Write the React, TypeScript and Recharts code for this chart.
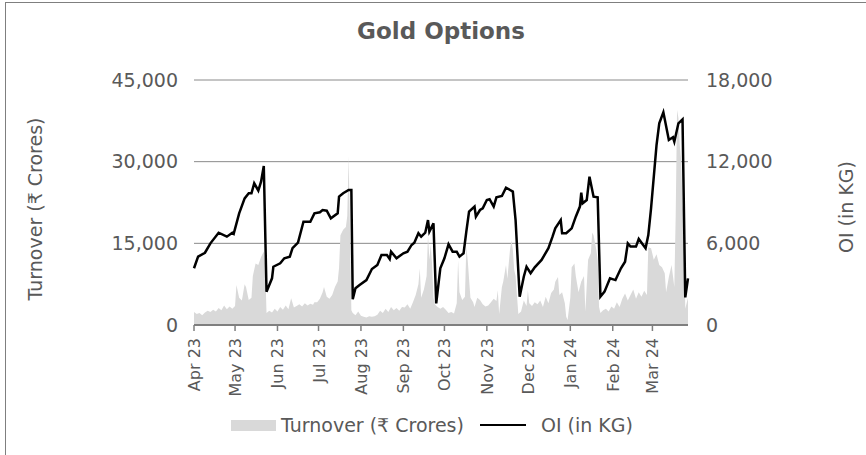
import { ComposedChart, Area, Line, XAxis, YAxis, CartesianGrid } from "recharts"

// x values are days counted from 1 Apr 2023
const monthStarts = [0, 30, 61, 91, 122, 153, 183, 214, 244, 275, 306, 335]
const monthLabels = ["Apr 23", "May 23", "Jun 23", "Jul 23", "Aug 23", "Sep 23", "Oct 23", "Nov 23", "Dec 23", "Jan 24", "Feb 24", "Mar 24"]

const turnoverTicks = [0, 15000, 30000, 45000]
const oiTicks = [0, 6000, 12000, 18000]

const turnoverDays = [
  0, 2, 4, 6, 8, 10, 12, 14, 16, 18, 20, 22, 24, 26, 28, 30, 31, 33, 35, 37, 38, 40, 42, 43, 45, 47, 49, 51, 52, 53,
  55, 57, 59, 61, 63, 65, 67, 69, 71, 73, 75, 77, 79, 81, 83, 85, 87, 88, 90, 92, 94, 95, 97, 99, 101, 103, 105, 106, 107, 109,
  111, 112, 113, 114, 115, 116, 118, 120, 122, 124, 126, 128, 130, 132, 134, 136, 138, 140, 142, 144, 146, 148, 150, 152, 154, 156, 158, 160, 162, 164,
  165, 166, 168, 170, 171, 172, 173, 174, 175, 176, 178, 180, 182, 184, 186, 188, 190, 192, 193, 194, 196, 198, 199, 200, 202, 204, 205, 207, 209, 211,
  213, 215, 217, 219, 221, 222, 223, 225, 226, 228, 229, 231, 232, 233, 234, 235, 237, 239, 241, 243, 244, 245, 247, 249, 251, 253, 255, 257, 259, 261,
  263, 264, 266, 267, 269, 271, 272, 273, 275, 276, 278, 279, 281, 283, 285, 286, 288, 290, 291, 292, 294, 295, 296, 297, 299, 301, 303, 305, 307, 309,
  311, 313, 315, 317, 319, 321, 323, 325, 327, 329, 331, 332, 334, 336, 338, 340, 342, 344, 345, 347, 349, 350, 351, 352, 353, 354, 355, 356, 357, 358,
  359, 361,
]
const turnoverCr = [
  2400, 2000, 2200, 1800, 2300, 2600, 2400, 2800, 2500, 3100, 2700, 3600, 2900, 3400, 3000, 3500, 7350, 5000, 4500, 7500, 7000, 4600, 5000, 9000, 11300, 11000, 12500, 13500, 11000, 2200,
  2600, 2300, 3000, 2500, 3300, 2800, 3600, 2900, 4900, 3200, 3500, 3800, 3400, 4000, 3600, 3900, 3700, 4200, 4200, 4800, 6000, 7000, 5200, 4800, 5500, 7000, 8000, 10500, 16500, 17500,
  18000, 20000, 31000, 17000, 2700, 2200, 1800, 2500, 1700, 1500, 1400, 1600, 1500, 1600, 1900, 2600, 2200, 3000, 2400, 3300, 2700, 3100, 2600, 3300, 3200, 3800, 3000, 4200, 5500, 7500,
  10400, 5000, 6500, 9000, 16500, 12000, 14700, 11000, 5000, 3800, 3300, 3000, 3300, 2800, 2200, 2400, 2100, 4000, 11900, 6000, 4600, 5200, 14400, 12000, 5000, 4200, 3300, 5000, 4600, 3800,
  3400, 3600, 4200, 4800, 4400, 6400, 2000, 7000, 8000, 11000, 8500, 14000, 15500, 13800, 10100, 9000, 2000, 2500, 4500, 3500, 6400, 4000, 3500, 4200, 3800, 4500, 3300, 5200, 4000, 5900,
  6500, 7960, 8800, 5500, 6000, 4000, 1500, 900, 5000, 10600, 11300, 9000, 6000, 8000, 9000, 2500, 12000, 13200, 17000, 16500, 13800, 12000, 3300, 2200, 2700, 3000, 2500, 3400, 3000, 4200,
  3300, 4800, 5800, 4500, 5500, 6500, 4800, 6000, 5200, 6300, 5500, 14300, 14100, 12000, 13000, 11000, 10600, 9500, 6000, 8800, 11000, 9000, 7000, 20000, 39500, 38000, 33000, 30300, 22000, 20000,
  3000, 5000,
]

const oiDays = [
  0, 3, 8, 12, 18, 24, 28, 29, 33, 37, 40, 42, 44, 47, 49, 51, 53, 57, 58, 63, 66, 70, 72, 76, 80, 85, 88, 92, 94, 97,
  100, 105, 106, 109, 113, 115, 116, 118, 121, 126, 130, 134, 137, 141, 143, 144, 148, 153, 156, 159, 161, 164, 166, 169, 171, 172, 175, 177, 180, 183,
  186, 189, 192, 194, 197, 199, 201, 205, 206, 209, 211, 214, 216, 219, 221, 225, 228, 231, 233, 235, 238, 241, 243, 246, 249, 254, 259, 262, 264, 268,
  269, 272, 276, 279, 282, 283, 284, 287, 289, 292, 295, 297, 300, 304, 308, 312, 315, 317, 319, 323, 325, 330, 332, 334, 338, 340, 343, 347, 350, 351,
  354, 357, 359, 361,
]
const oiKg = [
  4170, 5020, 5310, 6000, 6780, 6490, 6780, 6700, 8200, 9300, 9680, 9680, 10410, 9870, 10530, 11680, 2450, 3430, 4280, 4530, 4900, 5020, 5640, 6050, 7590, 7590, 8200, 8280, 8450, 8400,
  7840, 8200, 9430, 9680, 9920, 9920, 1890, 2700, 2940, 3300, 4110, 4410, 5140, 5140, 4850, 5390, 4900, 5270, 5390, 5880, 6050, 6740, 6490, 6780, 7710, 6860, 7470, 1590, 4170, 4900,
  5930, 5390, 5390, 5020, 5270, 6860, 8330, 8700, 7960, 8450, 8570, 9180, 9240, 8700, 9380, 9480, 10090, 9920, 9800, 7710, 2080, 3550, 4280, 3800, 4240, 4780, 5640, 6490, 7100, 7710,
  6740, 6740, 7100, 7960, 8700, 9720, 8940, 9180, 10900, 9430, 9380, 2080, 2450, 3430, 3300, 4170, 4650, 6000, 5760, 5760, 6320, 5640, 6610, 8570, 13220, 14820, 15630, 13590, 13790, 13470,
  14820, 15110, 2030, 3430,
]

// merge the two series on one day axis
const rows = new Map<number, { day: number; turnover?: number; oi?: number }>()
turnoverDays.forEach((d, i) => rows.set(d, { ...(rows.get(d) || { day: d }), turnover: turnoverCr[i] }))
oiDays.forEach((d, i) => rows.set(d, { ...(rows.get(d) || { day: d }), oi: oiKg[i] }))
const data = Array.from(rows.values()).sort((a, b) => a.day - b.day)

const FONT = "'DejaVu Sans', sans-serif"
const TEXT = "#595959"

const fmt = (v: number) => v.toLocaleString("en-US")

const MonthTick = ({ x, y, payload }: any) => {
  const i = monthStarts.indexOf(payload.value)
  return (
    <g transform={`translate(${x},${y})`}>
      <text transform="rotate(-90)" textAnchor="end" dy={6} fill={TEXT} fontSize={16} fontFamily={FONT}>
        {monthLabels[i]}
      </text>
    </g>
  )
}

export default function App() {
  return (
    <div style={{ position: "relative", width: 866, height: 455, overflow: "hidden", background: "#fff" }}>
      <style>{`body{margin:0}`}</style>
      <div style={{ position: "absolute", left: 5, top: 2, width: 900, height: 500, border: "1px solid #7f7f7f" }} />
      <div
        style={{
          position: "absolute", top: 18, left: 194, width: 494, textAlign: "center",
          fontFamily: FONT, fontWeight: "bold", fontSize: 23, color: TEXT,
        }}
      >
        Gold Options
      </div>
      <ComposedChart
        width={866}
        height={455}
        data={data}
        margin={{ top: 80, right: 0, bottom: 0, left: 0 }}
        style={{ position: "absolute", left: 0, top: 0 }}
      >
        <CartesianGrid yAxisId="left" vertical={false} stroke="#8a8a8a" strokeWidth={1} />
        <XAxis
          dataKey="day"
          type="number"
          domain={[0, 361]}
          ticks={monthStarts}
          interval={0}
          height={130}
          tick={<MonthTick />}
          tickSize={6}
          tickMargin={7}
          axisLine={{ stroke: "#7f7f7f", strokeWidth: 2 }}
          tickLine={{ stroke: "#7f7f7f", strokeWidth: 1.5 }}
        />
        <YAxis
          yAxisId="left"
          width={194}
          domain={[0, 45000]}
          ticks={turnoverTicks}
          tickFormatter={fmt}
          axisLine={false}
          tickLine={false}
          tickSize={6}
          tickMargin={10}
          tick={{ fill: TEXT, fontSize: 19, fontFamily: FONT }}
          label={{
            content: () => (
              <text x={35} y={209} transform="rotate(-90 35 209)" textAnchor="middle" dominantBaseline="central" fill={TEXT} fontSize={19} fontFamily={FONT}>
                Turnover (₹ Crores)
              </text>
            ),
          }}
        />
        <YAxis
          yAxisId="right"
          orientation="right"
          width={178}
          domain={[0, 18000]}
          ticks={oiTicks}
          tickFormatter={fmt}
          axisLine={false}
          tickLine={false}
          tickSize={6}
          tickMargin={12}
          tick={{ fill: TEXT, fontSize: 19, fontFamily: FONT }}
          label={{
            content: () => (
              <text x={846} y={207} transform="rotate(-90 846 207)" textAnchor="middle" dominantBaseline="central" fill={TEXT} fontSize={19} fontFamily={FONT}>
                OI (in KG)
              </text>
            ),
          }}
        />
        <Area
          yAxisId="left"
          dataKey="turnover"
          type="linear"
          fill="#d9d9d9"
          fillOpacity={1}
          stroke="none"
          connectNulls
          isAnimationActive={false}
        />
        <Line
          yAxisId="right"
          dataKey="oi"
          type="linear"
          stroke="#000"
          strokeWidth={2.5}
          dot={false}
          connectNulls
          isAnimationActive={false}
        />
      </ComposedChart>
      <div
        style={{
          position: "absolute", top: 414, left: 231, display: "flex", alignItems: "center",
          fontFamily: FONT, fontSize: 19, color: TEXT, whiteSpace: "nowrap",
        }}
      >
        <span style={{ display: "inline-block", width: 45, height: 11, background: "#d9d9d9", marginRight: 5 }} />
        <span>Turnover (₹ Crores)</span>
        <span style={{ display: "inline-block", width: 46, height: 2.5, background: "#000", margin: "0 15px 0 16px" }} />
        <span>OI (in KG)</span>
      </div>
    </div>
  )
}
